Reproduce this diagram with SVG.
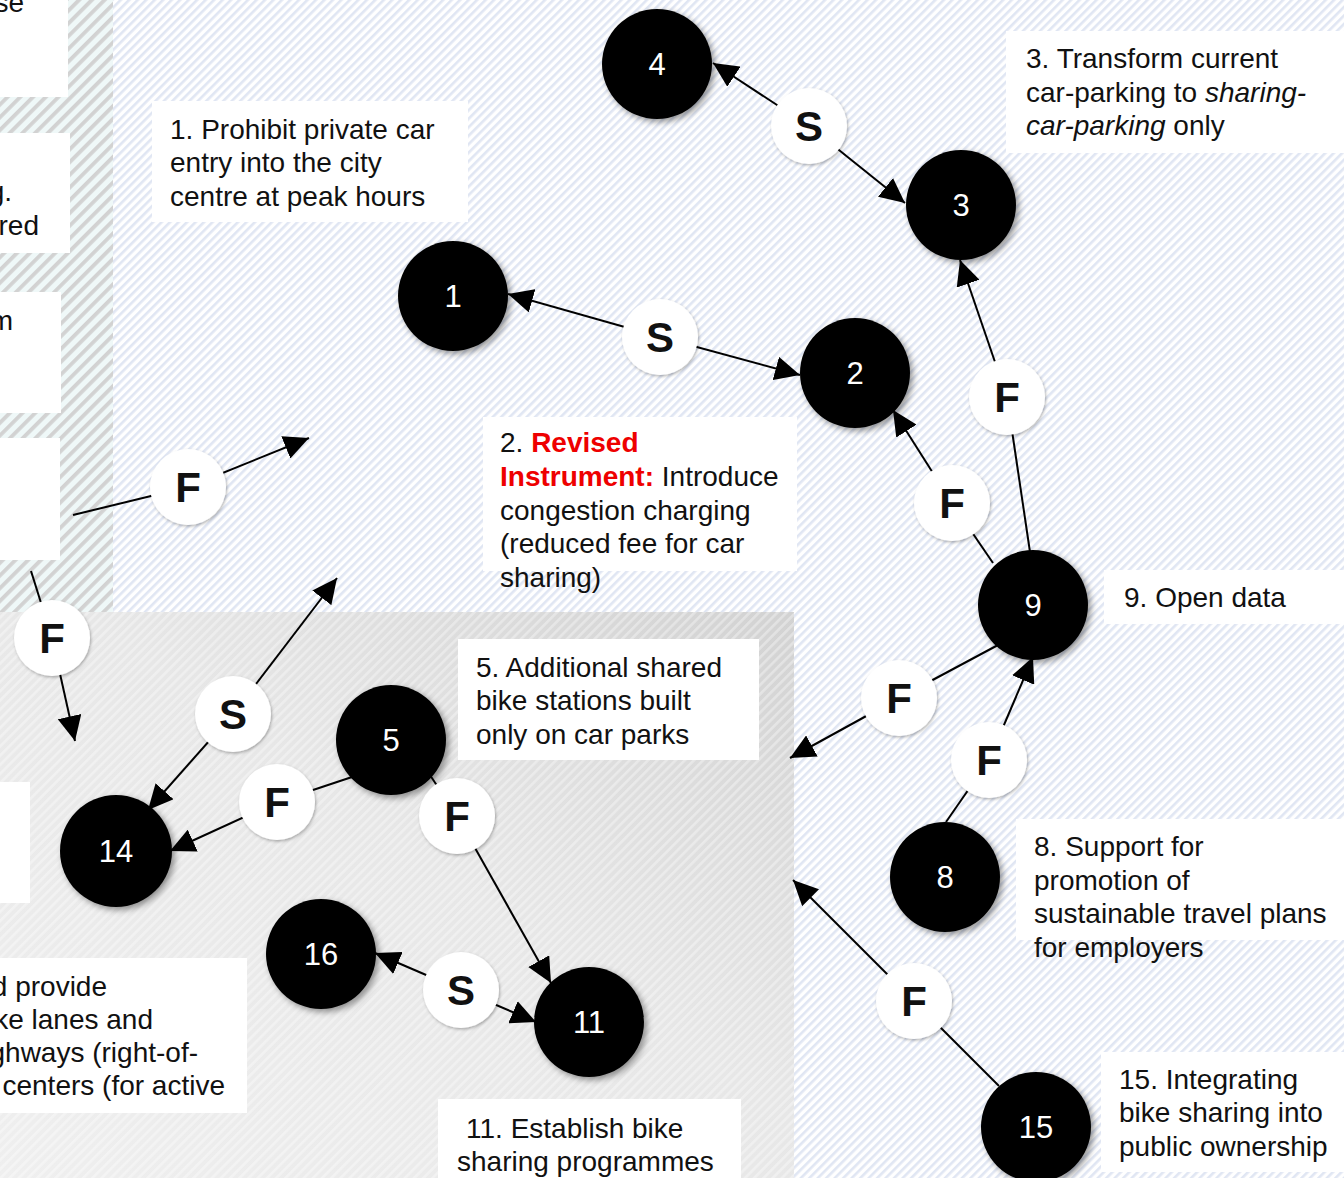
<svg xmlns="http://www.w3.org/2000/svg" width="1344" height="1178" viewBox="0 0 1344 1178">
<defs>
  <pattern id="bgStripe" patternUnits="userSpaceOnUse" width="6" height="6" patternTransform="rotate(45)">
    <rect width="6" height="6" fill="#ffffff"/>
    <rect width="2.6" height="6" fill="#e0e6f3"/>
  </pattern>
  <pattern id="leftStripe" patternUnits="userSpaceOnUse" width="9" height="9" patternTransform="rotate(45)">
    <rect width="9" height="9" fill="#eff8f8"/>
    <rect width="3.8" height="9" fill="#d2d2d2"/>
  </pattern>
  <pattern id="grayStripe" patternUnits="userSpaceOnUse" width="6.5" height="6.5" patternTransform="rotate(45)">
    <rect width="2.6" height="6.5" fill="#ffffff" fill-opacity="0.35"/>
  </pattern>
  <linearGradient id="grayGrad" x1="0" y1="1" x2="1" y2="0">
    <stop offset="0" stop-color="#efefef"/>
    <stop offset="0.55" stop-color="#e7e7e7"/>
    <stop offset="1" stop-color="#d2d2d2"/>
  </linearGradient>
  <filter id="shadow" x="-30%" y="-30%" width="160%" height="160%">
    <feDropShadow dx="3" dy="3" stdDeviation="3" flood-color="#000" flood-opacity="0.4"/>
  </filter>
  <filter id="shadowW" x="-30%" y="-30%" width="160%" height="160%">
    <feDropShadow dx="1" dy="1.5" stdDeviation="1.5" flood-color="#000" flood-opacity="0.3"/>
  </filter>
  <marker id="ah" markerUnits="userSpaceOnUse" markerWidth="27" markerHeight="24" refX="25" refY="12" orient="auto-start-reverse">
    <path d="M0,0 L25,12 L0,24 z" fill="#000"/>
  </marker>
  <style>
    .box { fill: #ffffff; }
    .txt { font-family: "Liberation Sans", Arial, sans-serif; font-size: 28px; fill: #111; }
    .red { fill: #ee0000; font-weight: bold; }
    .node { fill: #000; filter: url(#shadow); }
    .num { font-family: "Liberation Sans", Arial, sans-serif; font-size: 31px; fill: #fff; text-anchor: middle; }
    .wc { fill: #fff; filter: url(#shadowW); }
    .let { font-family: "Liberation Sans", Arial, sans-serif; font-size: 42px; font-weight: bold; fill: #111; text-anchor: middle; }
    .conn line { stroke: #000; stroke-width: 2; fill: none; }
    .arr { marker-end: url(#ah); }
  </style>
</defs>

<!-- backgrounds -->
<rect x="0" y="0" width="1344" height="1178" fill="url(#bgStripe)"/>
<rect x="0" y="0" width="113" height="612" fill="url(#leftStripe)"/>
<rect x="0" y="612" width="794" height="566" fill="url(#grayGrad)"/>
<rect x="0" y="612" width="794" height="566" fill="url(#grayStripe)"/>

<!-- text boxes -->
<g id="box-left-a">
  <rect class="box" x="0" y="0" width="68" height="97"/>
  <text class="txt" x="24" y="12" text-anchor="end">se</text>
</g>
<g id="box-left-b">
  <rect class="box" x="0" y="133" width="70" height="120"/>
  <text class="txt" x="12" y="201" text-anchor="end">g.</text>
  <text class="txt" x="39" y="235" text-anchor="end">red</text>
</g>
<g id="box-left-c">
  <rect class="box" x="0" y="292" width="61" height="121"/>
  <text class="txt" x="13" y="330" text-anchor="end">m</text>
</g>
<g id="box-left-d">
  <rect class="box" x="0" y="438" width="60" height="122"/>
</g>
<g id="box-left-e">
  <rect class="box" x="0" y="782" width="30" height="121"/>
</g>
<g id="box-left-f">
  <rect class="box" x="0" y="958" width="247" height="155"/>
  <text class="txt" x="107" y="996" text-anchor="end">d provide</text>
  <text class="txt" x="153" y="1029" text-anchor="end">ke lanes and</text>
  <text class="txt" x="198" y="1062" text-anchor="end">ghways (right-of-</text>
  <text class="txt" x="225" y="1095" text-anchor="end">centers (for active</text>
</g>
<g id="box1">
  <rect class="box" x="152" y="101" width="316" height="121"/>
  <text class="txt" x="170" y="139">1. Prohibit private car</text>
  <text class="txt" x="170" y="172">entry into the city</text>
  <text class="txt" x="170" y="206">centre at peak hours</text>
</g>
<g id="box2">
  <rect class="box" x="483" y="417" width="314" height="154"/>
  <text class="txt" x="500" y="452">2. <tspan class="red">Revised</tspan></text>
  <text class="txt" x="500" y="486"><tspan class="red">Instrument:</tspan> Introduce</text>
  <text class="txt" x="500" y="520">congestion charging</text>
  <text class="txt" x="500" y="553">(reduced fee for car</text>
  <text class="txt" x="500" y="587">sharing)</text>
</g>
<g id="box3">
  <rect class="box" x="1006" y="31" width="338" height="122"/>
  <text class="txt" x="1026" y="68">3. Transform current</text>
  <text class="txt" x="1026" y="102">car-parking to <tspan font-style="italic">sharing-</tspan></text>
  <text class="txt" x="1026" y="135"><tspan font-style="italic">car-parking</tspan> only</text>
</g>
<g id="box9">
  <rect class="box" x="1104" y="570" width="240" height="54"/>
  <text class="txt" x="1124" y="607">9. Open data</text>
</g>
<g id="box5">
  <rect class="box" x="458" y="639" width="301" height="121"/>
  <text class="txt" x="476" y="677">5. Additional shared</text>
  <text class="txt" x="476" y="710">bike stations built</text>
  <text class="txt" x="476" y="744">only on car parks</text>
</g>
<g id="box8">
  <rect class="box" x="1016" y="819" width="328" height="121"/>
  <text class="txt" x="1034" y="856">8. Support for</text>
  <text class="txt" x="1034" y="890">promotion of</text>
  <text class="txt" x="1034" y="923">sustainable travel plans</text>
  <text class="txt" x="1034" y="957">for employers</text>
</g>
<g id="box11">
  <rect class="box" x="438" y="1099" width="303" height="79"/>
  <text class="txt" x="466" y="1138">11. Establish bike</text>
  <text class="txt" x="457" y="1171">sharing programmes</text>
</g>
<g id="box15">
  <rect class="box" x="1101" y="1052" width="243" height="120"/>
  <text class="txt" x="1119" y="1089">15. Integrating</text>
  <text class="txt" x="1119" y="1122">bike sharing into</text>
  <text class="txt" x="1119" y="1156">public ownership</text>
</g>

<!-- connectors -->
<g id="connectors" class="conn">
  <line class="arr" x1="809" y1="126" x2="713" y2="63"/>
  <line class="arr" x1="809" y1="126" x2="905" y2="203"/>
  <line class="arr" x1="660" y1="337" x2="508" y2="294"/>
  <line class="arr" x1="660" y1="337" x2="800" y2="375"/>
  <line x1="1030" y1="552" x2="1007" y2="397"/>
  <line class="arr" x1="1007" y1="397" x2="960" y2="260"/>
  <line x1="993" y1="563" x2="952" y2="503"/>
  <line class="arr" x1="952" y1="503" x2="893" y2="410"/>
  <line x1="73" y1="515" x2="188" y2="487"/>
  <line class="arr" x1="188" y1="487" x2="309" y2="438"/>
  <line x1="31" y1="571" x2="52" y2="638"/>
  <line class="arr" x1="52" y1="638" x2="75" y2="741"/>
  <line class="arr" x1="233" y1="714" x2="337" y2="578"/>
  <line class="arr" x1="233" y1="714" x2="148" y2="810"/>
  <line x1="352" y1="777" x2="277" y2="802"/>
  <line class="arr" x1="277" y1="802" x2="170" y2="851"/>
  <line x1="428" y1="772" x2="457" y2="816"/>
  <line class="arr" x1="457" y1="816" x2="551" y2="983"/>
  <line x1="998" y1="645" x2="899" y2="698"/>
  <line class="arr" x1="899" y1="698" x2="790" y2="758"/>
  <line x1="946" y1="822" x2="989" y2="760"/>
  <line class="arr" x1="989" y1="760" x2="1033" y2="657"/>
  <line class="arr" x1="461" y1="990" x2="375" y2="953"/>
  <line class="arr" x1="461" y1="990" x2="536" y2="1022"/>
  <line x1="999" y1="1086" x2="914" y2="1001"/>
  <line class="arr" x1="914" y1="1001" x2="793" y2="880"/>
</g>

<!-- numbered nodes -->
<g id="n4"><circle class="node" cx="657" cy="64" r="55"/><text class="num" x="657" y="75">4</text></g>
<g id="n3"><circle class="node" cx="961" cy="205" r="55"/><text class="num" x="961" y="216">3</text></g>
<g id="n1"><circle class="node" cx="453" cy="296" r="55"/><text class="num" x="453" y="307">1</text></g>
<g id="n2"><circle class="node" cx="855" cy="373" r="55"/><text class="num" x="855" y="384">2</text></g>
<g id="n9"><circle class="node" cx="1033" cy="605" r="55"/><text class="num" x="1033" y="616">9</text></g>
<g id="n5"><circle class="node" cx="391" cy="740" r="55"/><text class="num" x="391" y="751">5</text></g>
<g id="n14"><circle class="node" cx="116" cy="851" r="56"/><text class="num" x="116" y="862">14</text></g>
<g id="n8"><circle class="node" cx="945" cy="877" r="55"/><text class="num" x="945" y="888">8</text></g>
<g id="n16"><circle class="node" cx="321" cy="954" r="55"/><text class="num" x="321" y="965">16</text></g>
<g id="n11"><circle class="node" cx="589" cy="1022" r="55"/><text class="num" x="589" y="1033">11</text></g>
<g id="n15"><circle class="node" cx="1036" cy="1127" r="55"/><text class="num" x="1036" y="1138">15</text></g>

<!-- relation markers -->
<g id="s-4-3"><circle class="wc" cx="809" cy="126" r="38"/><text class="let" x="809" y="141">S</text></g>
<g id="s-1-2"><circle class="wc" cx="660" cy="337" r="38"/><text class="let" x="660" y="352">S</text></g>
<g id="f-9-3"><circle class="wc" cx="1007" cy="397" r="38"/><text class="let" x="1007" y="412">F</text></g>
<g id="f-9-2"><circle class="wc" cx="952" cy="503" r="38"/><text class="let" x="952" y="518">F</text></g>
<g id="f-left-1"><circle class="wc" cx="188" cy="487" r="38"/><text class="let" x="188" y="502">F</text></g>
<g id="f-left-2"><circle class="wc" cx="52" cy="638" r="38"/><text class="let" x="52" y="653">F</text></g>
<g id="s-14"><circle class="wc" cx="233" cy="714" r="38"/><text class="let" x="233" y="729">S</text></g>
<g id="f-5-14"><circle class="wc" cx="277" cy="802" r="38"/><text class="let" x="277" y="817">F</text></g>
<g id="f-5-11"><circle class="wc" cx="457" cy="816" r="38"/><text class="let" x="457" y="831">F</text></g>
<g id="f-9-out"><circle class="wc" cx="899" cy="698" r="38"/><text class="let" x="899" y="713">F</text></g>
<g id="f-8-9"><circle class="wc" cx="989" cy="760" r="38"/><text class="let" x="989" y="775">F</text></g>
<g id="s-16-11"><circle class="wc" cx="461" cy="990" r="38"/><text class="let" x="461" y="1005">S</text></g>
<g id="f-15-out"><circle class="wc" cx="914" cy="1001" r="38"/><text class="let" x="914" y="1016">F</text></g>
</svg>
